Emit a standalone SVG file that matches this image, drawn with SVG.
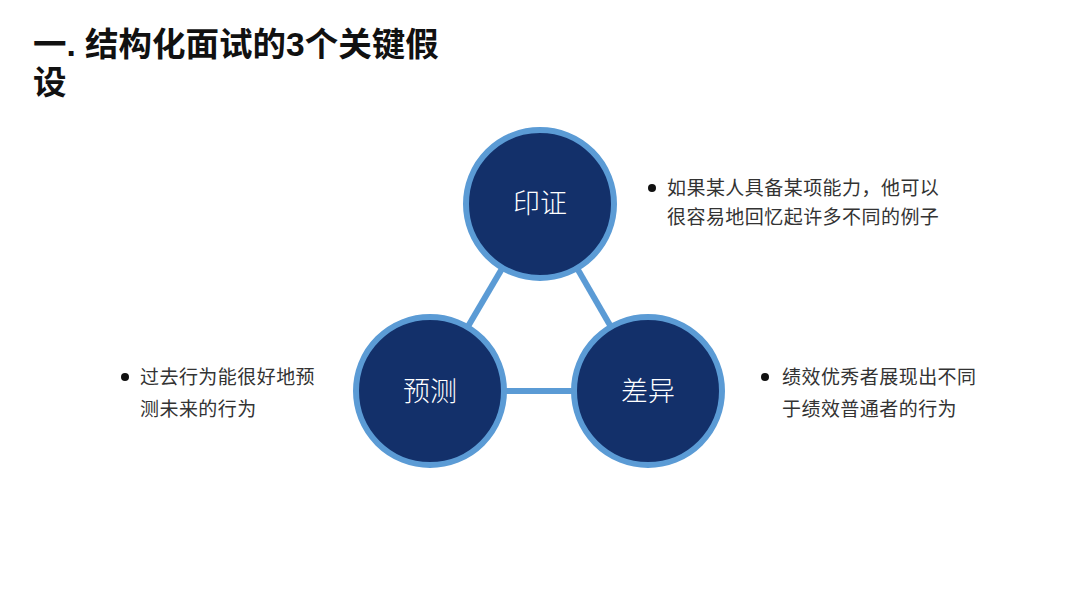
<svg xmlns="http://www.w3.org/2000/svg" width="1080" height="607" viewBox="0 0 1080 607">
<style>
.title{font-family:"Liberation Sans","Noto Sans CJK SC",sans-serif;font-weight:bold;font-size:33.5px;fill:#111;}
.node{fill:#13306a;stroke:#5b9bd5;stroke-width:6;}
.lbl{font-family:"Noto Sans CJK SC",serif;font-weight:300;font-size:27px;fill:#fff;text-anchor:middle;}
.desc{font-family:"Liberation Sans","Noto Sans CJK SC",sans-serif;font-size:19px;letter-spacing:0.45px;fill:#333;}
.dot{fill:#111;}
.conn{stroke:#5b9bd5;stroke-width:6;fill:none;}
</style>
<rect width="1080" height="607" fill="#fff"/>
<text class="title" x="33" y="56">一. 结构化面试的3个关键假</text>
<text class="title" x="33" y="94">设</text>
<g id="connectors">
<line class="conn" x1="540" y1="204" x2="430" y2="391"/>
<line class="conn" x1="540" y1="204" x2="648" y2="391"/>
<line class="conn" x1="430" y1="391" x2="648" y2="391"/>
</g>
<g id="node-yinzheng">
<circle class="node" cx="540" cy="204" r="74"/>
<text class="lbl" x="540" y="213">印证</text>
</g>
<g id="node-yuce">
<circle class="node" cx="430" cy="391" r="74"/>
<text class="lbl" x="430" y="401">预测</text>
</g>
<g id="node-chayi">
<circle class="node" cx="648" cy="391" r="74"/>
<text class="lbl" x="648" y="401">差异</text>
</g>
<g id="desc-yinzheng">
<circle class="dot" cx="652" cy="188" r="4"/>
<text class="desc" x="667" y="195">如果某人具备某项能力，他可以</text>
<text class="desc" x="667" y="224">很容易地回忆起许多不同的例子</text>
</g>
<g id="desc-yuce">
<circle class="dot" cx="125" cy="377" r="4"/>
<text class="desc" x="140" y="384">过去行为能很好地预</text>
<text class="desc" x="140" y="416">测未来的行为</text>
</g>
<g id="desc-chayi">
<circle class="dot" cx="765" cy="377" r="4"/>
<text class="desc" x="782" y="384">绩效优秀者展现出不同</text>
<text class="desc" x="782" y="416">于绩效普通者的行为</text>
</g>
</svg>
